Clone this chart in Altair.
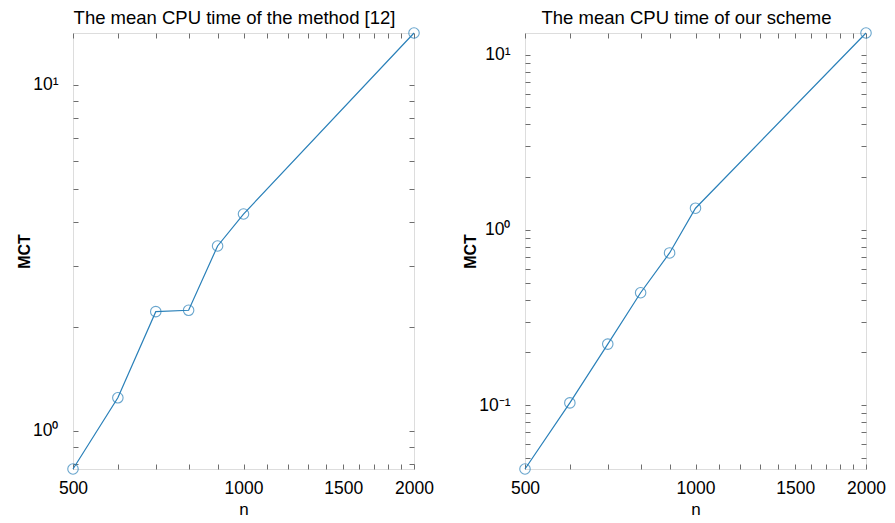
import altair as alt
import pandas as pd

n = [500, 600, 700, 800, 900, 1000, 2000]
mct_method12 = [0.776, 1.246, 2.21, 2.23, 3.42, 4.23, 14.1]
mct_ours = [0.0432, 0.103, 0.223, 0.438, 0.739, 1.33, 13.3]

titles = ["The mean CPU time of the method [12]", "The mean CPU time of our scheme"]
x_label_values = [500, 1000, 1500, 2000]
x_minor_values = list(range(500, 2001, 100))

W, H = 341, 436
LINE = "#2A80B9"
FRAME = "#6E6E6E"
FONT = "Liberation Sans"

SUP = "{'-2':'⁻²','-1':'⁻¹','0':'⁰','1':'¹','2':'²'}"
label_expr = ("'10' + " + SUP + "[toString(round(log(datum.value)/LN10))]")


def panel(values, title):
    df = pd.DataFrame({"n": n, "MCT": values})
    lo, hi = min(values), max(values)
    y_major = [10.0 ** k for k in range(-3, 3) if lo <= 10.0 ** k <= hi]
    y_minor = [m * 10.0 ** k for k in range(-3, 3) for m in range(1, 10)
               if lo <= m * 10.0 ** k <= hi]
    xs = alt.Scale(type="log", domain=[500, 2000], nice=False)
    ys = alt.Scale(type="log", nice=False, zero=False)

    base = alt.Chart(df)
    common = dict(grid=False, domain=False, labelFont=FONT, titleFont=FONT,
                  minExtent=0)

    main = base.mark_line(color=LINE, strokeWidth=1.2).encode(
        x=alt.X("n:Q", scale=xs, axis=alt.Axis(
            orient="bottom", values=x_label_values, format="d", ticks=False,
            labelFontSize=17.5, labelColor="black", labelPadding=10,
            labelFlush=False, labelOverlap=False,
            title="n", titleFontSize=17, titleFontWeight="normal",
            titleColor="black", titlePadding=5, **common)),
        y=alt.Y("MCT:Q", scale=ys, axis=alt.Axis(
            orient="left", values=y_major, labelExpr=label_expr, ticks=False,
            labelFontSize=17.5, labelColor="black", labelPadding=15,
            labelFlush=False,
            title="MCT", titleFontSize=16, titleFontWeight="bold",
            titleColor="black", titlePadding=0, **common)),
    )
    pts = base.mark_point(shape="circle", size=110, filled=False,
                          color=LINE, strokeWidth=1.1).encode(
        x=alt.X("n:Q", scale=xs, axis=alt.Axis(
            orient="top", offset=-H, values=x_minor_values, labels=False,
            ticks=True, tickSize=5, tickColor=FRAME, tickWidth=1,
            title=None, **common)),
        y=alt.Y("MCT:Q", scale=ys, axis=alt.Axis(
            orient="right", offset=-W, values=y_minor, labels=False,
            tickSize=5, tickColor=FRAME, title=None, **common)),
    )
    ghost = base.mark_line(opacity=0).encode(
        x=alt.X("n:Q", scale=xs, axis=alt.Axis(
            orient="bottom", offset=-H, values=x_minor_values, labels=False,
            ticks=True, tickSize=5, tickColor=FRAME, tickWidth=1,
            title=None, **common)),
        y=alt.Y("MCT:Q", scale=ys, axis=alt.Axis(
            orient="left", offset=-W, values=y_minor, labels=False,
            tickSize=5, tickColor=FRAME, title=None, **common)),
    )
    return alt.layer(main, pts, ghost).properties(
        width=W, height=H,
        title=alt.TitleParams(title, font=FONT, fontSize=18.5,
                              fontWeight="normal", color="black", offset=-2,
                              dx=-9),
    )


chart = alt.hconcat(
    panel(mct_method12, titles[0]),
    panel(mct_ours, titles[1]),
    spacing=28,
).properties(
    padding={"left": 8, "top": 0, "right": 0, "bottom": 0},
).configure_view(
    stroke=FRAME, strokeWidth=1
).configure(background="white")

chart.save("out.html", embed_options={"renderer": "svg", "actions": False})
